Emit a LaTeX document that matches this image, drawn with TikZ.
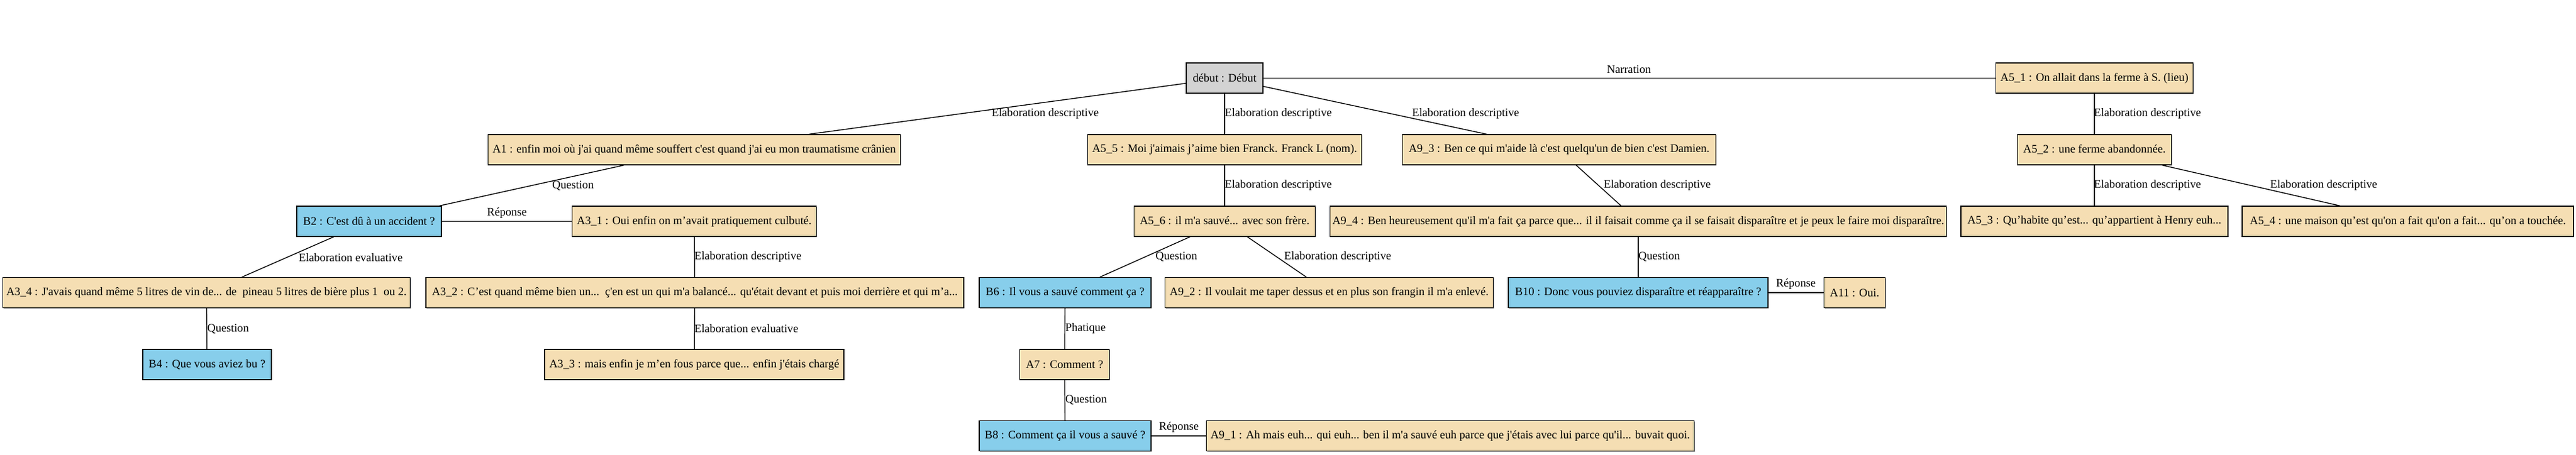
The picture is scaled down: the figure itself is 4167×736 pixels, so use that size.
\documentclass[tikz,border=0pt]{standalone}
\usepackage{fontspec}
\setmainfont{Liberation Serif}[Ligatures=TeXOff]
\usetikzlibrary{shadows}
\definecolor{tanc}{HTML}{F5DEB3}
\definecolor{bluc}{HTML}{87CEEB}
\definecolor{gryc}{HTML}{D3D3D3}
\newcommand{\lblfont}{\fontsize{9.3pt}{11pt}\selectfont}
\tikzset{
  box/.style={draw=black, line width=0.6pt, rectangle, minimum height=24.5pt,
    inner xsep=1.5pt, inner ysep=0pt, font=\lblfont,
    general shadow={shadow xshift=0.7pt, shadow yshift=-0.7pt, fill=black!35}},
  tanbox/.style={box, fill=tanc},
  blubox/.style={box, fill=bluc},
  grybox/.style={box, fill=gryc},
  lbl/.style={font=\lblfont, inner sep=0pt, anchor=west},
  lblc/.style={font=\lblfont, inner sep=0pt},
  conn/.style={line width=0.7pt, draw=black}
}
\begin{document}
\begin{tikzpicture}[x=0.5pt,y=-0.5pt]
\useasboundingbox (0,0) rectangle (4167,736);
% row 0
\node[grybox, minimum width=62pt] (debut) at (1981,126.5) {début : Début};
\node[tanbox, minimum width=159.5pt] (A51) at (3388,126.5) {A5\_1 : On allait dans la ferme à S. (lieu)};
% row 1
\node[tanbox, minimum width=333.5pt] (A1) at (1123,242.5) {A1 : enfin moi où j'ai quand même souffert c'est quand j'ai eu mon traumatisme crânien};
\node[tanbox, minimum width=221.5pt] (A55) at (1981,242.5) {A5\_5 : Moi j'aimais j’aime bien Franck. Franck L (nom).};
\node[tanbox, minimum width=253.5pt] (A93) at (2522,242.5) {A9\_3 : Ben ce qui m'aide là c'est quelqu'un de bien c'est Damien.};
\node[tanbox, minimum width=124.5pt] (A52) at (3388,242.5) {A5\_2 : une ferme abandonnée.};
% row 2
\node[blubox, minimum width=117pt] (B2) at (597,358.5) {B2 : C'est dû à un accident ?};
\node[tanbox, minimum width=197.5pt] (A31) at (1123,358.5) {A3\_1 : Oui enfin on m’avait pratiquement culbuté.};
\node[tanbox, minimum width=146.5pt] (A56) at (1981,358.5) {A5\_6 : il m'a sauvé... avec son frère.};
\node[tanbox, minimum width=498.5pt] (A94) at (2650,358.5) {A9\_4 : Ben heureusement qu'il m'a fait ça parce que... il il faisait comme ça il se faisait disparaître et je peux le faire moi disparaître.};
\node[tanbox, minimum width=216pt] (A53) at (3388,358.5) {A5\_3 : Qu’habite qu’est... qu’appartient à Henry euh...};
\node[tanbox, minimum width=268pt] (A54) at (3895,358.5) {A5\_4 : une maison qu’est qu'on a fait qu'on a fait... qu’on a touchée.};
% row 3
\node[tanbox, minimum width=329.5pt] (A34) at (334,474) {A3\_4 : J'avais quand même 5 litres de vin de... de\ \ pineau 5 litres de bière plus 1\ \ ou 2.};
\node[tanbox, minimum width=435pt] (A32) at (1124,474) {A3\_2 : C’est quand même bien un...\ \ ç'en est un qui m'a balancé... qu'était devant et puis moi derrière et qui m’a...};
\node[blubox, minimum width=139pt] (B6) at (1723,474) {B6 : Il vous a sauvé comment ça ?};
\node[tanbox, minimum width=265.5pt] (A92) at (2150,474) {A9\_2 : Il voulait me taper dessus et en plus son frangin il m'a enlevé.};
\node[blubox, minimum width=210pt] (B10) at (2650,474) {B10 : Donc vous pouviez disparaître et réapparaître ?};
\node[tanbox, minimum width=49.5pt] (A11) at (3000,474) {A11 : Oui.};
% row 4
\node[blubox, minimum width=104pt] (B4) at (335,590.5) {B4 : Que vous aviez bu ?};
\node[tanbox, minimum width=242pt] (A33) at (1123,590.5) {A3\_3 : mais enfin je m’en fous parce que... enfin j'étais chargé};
\node[tanbox, minimum width=72.5pt] (A7) at (1722,590.5) {A7 : Comment ?};
% row 5
\node[blubox, minimum width=139pt] (B8) at (1723,706) {B8 : Comment ça il vous a sauvé ?};
\node[tanbox, minimum width=394.5pt] (A91) at (2346,706) {A9\_1 : Ah mais euh... qui euh... ben il m'a sauvé euh parce que j'étais avec lui parce qu'il... buvait quoi.};
% connectors
\draw[conn] (debut) -- (A1);
\draw[conn] (debut) -- (A55);
\draw[conn] (debut) -- (A93);
\draw[conn] (debut) -- (A51);
\draw[conn] (A1) -- (B2);
\draw[conn] (B2) -- (A31);
\draw[conn] (B2) -- (A34);
\draw[conn] (A34) -- (B4);
\draw[conn] (A31) -- (A32);
\draw[conn] (A32) -- (A33);
\draw[conn] (A55) -- (A56);
\draw[conn] (A56) -- (B6);
\draw[conn] (A56) -- (A92);
\draw[conn] (B6) -- (A7);
\draw[conn] (A7) -- (B8);
\draw[conn] (B8) -- (A91);
\draw[conn] (A93) -- (A94);
\draw[conn] (A94) -- (B10);
\draw[conn] (B10) -- (A11);
\draw[conn] (A51) -- (A52);
\draw[conn] (A52) -- (A53);
\draw[conn] (A52) -- (A54);
% labels
\node[lbl] (l1) at (1604,184) {Elaboration descriptive};
\node[lbl] (l2) at (1981,184) {Elaboration descriptive};
\node[lbl] (l3) at (2284,184) {Elaboration descriptive};
\node[lblc] (l4) at (2635,112) {Narration};
\node[lbl] (l5) at (893,301) {Question};
\node[lblc] (l6) at (820,345) {Réponse};
\node[lbl] (l7) at (483,417) {Elaboration evaluative};
\node[lbl] (l8) at (335,533) {Question};
\node[lbl] (l9) at (1123,416) {Elaboration descriptive};
\node[lbl] (l10) at (1123,532) {Elaboration evaluative};
\node[lbl] (l11) at (1981,300) {Elaboration descriptive};
\node[lbl] (l12) at (1869,416) {Question};
\node[lbl] (l13) at (2077,416) {Elaboration descriptive};
\node[lbl] (l14) at (1723,532) {Phatique};
\node[lbl] (l15) at (1723,648) {Question};
\node[lblc] (l16) at (1907,692) {Réponse};
\node[lbl] (l17) at (2594,300) {Elaboration descriptive};
\node[lbl] (l18) at (2650,416) {Question};
\node[lblc] (l19) at (2905,460) {Réponse};
\node[lbl] (l20) at (3387,184) {Elaboration descriptive};
\node[lbl] (l21) at (3387,300) {Elaboration descriptive};
\node[lbl] (l22) at (3672,300) {Elaboration descriptive};
\end{tikzpicture}
\end{document}
